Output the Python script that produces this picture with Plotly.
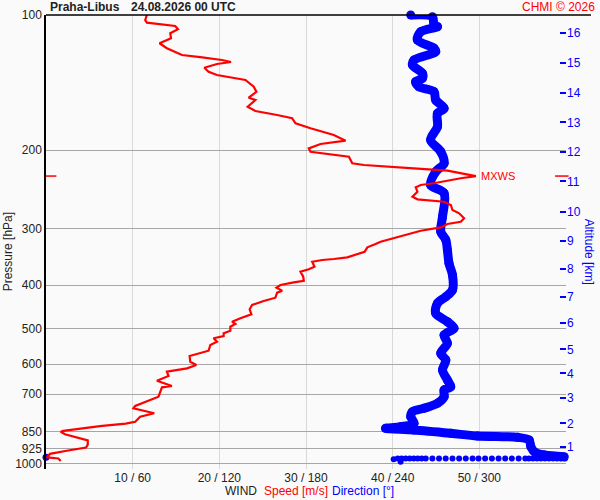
import math
import plotly.graph_objects as go

# === Data ===
# wind speed profile [m/s] vs pressure [hPa]
speed_ms = [11.64, 11.45, 11.64, 14.91, 15.23, 14.34, 14.42, 13.10, 13.95, 15.69,
            17.80, 20.31, 21.35, 19.73, 18.27, 18.76, 19.73, 23.01, 23.97, 24.28,
            23.39, 24.16, 23.27, 24.16, 26.67, 28.40, 28.79, 30.52, 33.21, 34.57,
            31.68, 30.32, 30.52, 34.95, 35.34, 36.68, 42.43, 46.32, 49.60, 47.86,
            44.74, 43.24, 42.66, 42.86, 42.28, 42.86, 45.93, 46.71, 46.90, 47.67,
            48.24, 47.86, 46.32, 45.55, 43.24, 40.92, 39.97, 38.61, 38.03, 37.08,
            36.76, 35.72, 34.76, 33.21, 31.87, 30.72, 30.98, 30.32, 29.36, 29.68,
            29.75, 28.59, 27.05, 26.59, 27.25, 26.67, 26.47, 25.12, 23.78, 23.50,
            23.70, 22.43, 21.47, 21.85, 21.27, 21.27, 20.50, 20.50, 19.34, 19.73,
            18.96, 18.76, 17.80, 16.57, 16.65, 17.34, 16.27, 13.95, 14.14, 12.80,
            14.53, 13.38, 12.98, 12.02, 10.29, 10.09, 12.49, 10.87, 10.29, 9.19,
            6.22, 2.00, 1.70, 2.19, 4.05, 4.82, 4.82, 4.62, 2.39, 0.46,
            0.08, 1.43, 1.70]
speed_hpa = [100.0, 102.6, 104.0, 105.8, 107.6, 109.8, 112.7, 115.6, 118.6, 122.8,
             124.2, 126.0, 127.3, 128.6, 131.1, 133.8, 136.1, 139.6, 144.5, 148.3,
             152.9, 154.7, 160.2, 163.7, 167.1, 169.9, 174.4, 178.9, 185.2, 190.6,
             193.9, 198.3, 201.8, 207.0, 214.1, 216.0, 219.7, 222.4, 228.6, 231.2,
             237.2, 239.3, 242.2, 247.7, 254.1, 257.6, 260.8, 265.2, 272.1, 276.8,
             284.0, 289.0, 292.4, 297.5, 302.7, 311.1, 314.7, 320.3, 324.1, 329.6,
             337.2, 341.7, 347.0, 350.0, 351.8, 354.9, 364.1, 369.0, 373.6, 383.3,
             391.3, 394.5, 400.0, 405.6, 411.9, 416.1, 426.9, 434.2, 443.2, 453.1,
             464.9, 474.5, 482.9, 488.6, 495.4, 505.7, 512.5, 519.7, 525.8, 535.1,
             544.2, 560.4, 567.9, 575.9, 593.0, 603.1, 613.4, 624.2, 638.1, 653.7,
             671.8, 676.3, 709.6, 721.8, 744.3, 753.2, 772.8, 786.4, 806.9, 814.8,
             825.2, 845.4, 849.4, 860.4, 878.2, 888.2, 907.4, 921.2, 936.4, 951.8,
             968.7, 974.7, 987.0]

# wind direction profile [deg] vs pressure [hPa]
dir_deg = [252.5, 267.5, 268.6, 271.0, 259.4, 257.1, 268.6, 269.8, 254.8, 253.7,
           260.6, 260.6, 255.9, 258.2, 268.6, 269.8, 275.6, 271.0, 271.0, 266.3,
           273.3, 275.6, 269.8, 266.3, 275.6, 274.5, 273.3, 276.8, 277.9, 279.0,
           281.4, 281.4, 276.8, 271.0, 269.8, 277.9, 282.5, 275.6, 277.9, 273.3,
           276.8, 274.5, 277.9, 280.2, 275.6, 275.6, 271.0, 261.7, 253.7, 252.5,
           254.8, 245.5, 235.1, 254.8, 280.2, 298.7, 326.5, 334.5, 335.7, 338.0,
           344.9, 358.8]
dir_hpa = [100.0, 100.9, 105.3, 106.2, 109.0, 113.7, 118.6, 120.7, 126.0, 129.2,
           134.9, 138.4, 140.8, 144.5, 148.3, 154.7, 161.5, 165.7, 177.5, 190.0,
           201.8, 214.1, 223.6, 239.3, 249.7, 281.7, 304.2, 317.4, 334.2, 357.8,
           379.9, 410.4, 424.8, 439.3, 462.5, 482.9, 499.5, 517.0, 539.5, 567.9,
           587.9, 618.8, 651.4, 674.2, 685.8, 709.6, 734.2, 753.2, 766.5, 786.4,
           813.5, 827.9, 834.7, 842.0, 856.4, 868.4, 874.2, 886.4, 917.6, 941.5,
           957.3, 965.7]

# near-surface direction samples (sparse dotted row)
row_deg = [359.3, 356.5, 353.7, 351.0, 348.2, 345.4, 342.6, 339.9, 337.1, 334.3,
           331.8, 327.2, 322.5, 317.9, 313.3, 308.7, 304.0, 299.4, 295.3, 290.6,
           286.0, 281.4, 276.7, 272.1, 267.5, 262.9, 260.1, 257.3, 254.6, 251.8,
           249.0, 246.2, 243.5, 240.7, 245.5]
row_hpa = [974.7] * 33 + [978.7, 990.8]

calm_deg = [0.0]
calm_hpa = [968.7]

# right-hand altitude scale: km and the pressure level it sits at
alt_km = [1, 2, 3, 4, 5, 6, 7, 8, 9, 10, 11, 12, 13, 14, 15, 16]
alt_hpa = [917.6, 813.5, 715.4, 629.4, 556.4, 486.8, 424.8, 368.4, 318.6, 274.6,
           234.9, 202.1, 173.5, 149.3, 128.1, 109.8]

pressure_ticks = [100, 200, 300, 400, 500, 600, 700, 850, 925, 1000]
speed_ticks = [10, 20, 30, 40, 50, 60]
speed_labels = ["10 / 60", "20 / 120", "30 / 180", "40 / 240", "50 / 300", ""]

station = "Praha-Libus"
stamp = "24.08.2026 00 UTC"

# === Derived ===
i_max = max(range(len(speed_ms)), key=lambda i: speed_ms[i])
mxws_speed = speed_ms[i_max]
mxws_hpa = speed_hpa[i_max]

FONT = "Liberation Sans, Arial, sans-serif"
BLUE = "#0000ff"
RED = "#ff0000"
y_range = [math.log10(1028.6), 2.0]

fig = go.Figure()

fig.add_trace(go.Scatter(
    x=[d / 6 for d in dir_deg], y=dir_hpa, mode="lines+markers",
    line=dict(color=BLUE, width=9, shape="spline", smoothing=0.9),
    marker=dict(color=BLUE, size=9),
    cliponaxis=False, hoverinfo="skip"))
fig.add_trace(go.Scatter(
    x=[d / 6 for d in row_deg], y=row_hpa, mode="markers",
    marker=dict(color=BLUE, size=6), cliponaxis=False, hoverinfo="skip"))
fig.add_trace(go.Scatter(
    x=[d / 6 for d in calm_deg], y=calm_hpa, mode="markers",
    marker=dict(color=BLUE, size=7), cliponaxis=False, hoverinfo="skip"))
fig.add_trace(go.Scatter(
    x=speed_ms, y=speed_hpa, mode="lines",
    line=dict(color=RED, width=2.2), hoverinfo="skip"))
# invisible trace so the altitude axis gets drawn
fig.add_trace(go.Scatter(
    x=[None], y=[None], yaxis="y2", showlegend=False, hoverinfo="skip"))

fig.update_layout(
    width=600, height=500,
    margin=dict(l=46, r=34, t=15, b=31, autoexpand=False),
    paper_bgcolor="#fafafa", plot_bgcolor="#fafafa",
    showlegend=False,
    font=dict(family=FONT, size=12, color="#222222"),
    xaxis=dict(range=[0, 60], tickvals=speed_ticks, ticktext=speed_labels,
               showgrid=True, gridcolor="#d9d9d9", gridwidth=1,
               zeroline=False, showline=False, ticks="", automargin=False,
               tickfont=dict(size=12, color="#222222")),
    yaxis=dict(type="log", range=y_range, tickvals=pressure_ticks,
               ticktext=[str(p) for p in pressure_ticks],
               showgrid=True, gridcolor="#a6a6a6", gridwidth=1,
               zeroline=False, showline=True, linecolor="black", linewidth=1.5,
               ticks="", automargin=False, tickfont=dict(size=12, color="#222222")),
    yaxis2=dict(type="log", range=y_range, overlaying="y", side="right",
                tickvals=alt_hpa, ticktext=[str(k) for k in alt_km],
                ticks="inside", ticklen=6, tickwidth=1.5, tickcolor=BLUE,
                tickfont=dict(size=12, color=BLUE), automargin=False,
                showgrid=False, zeroline=False, showline=False),
)

# top frame line, running a little past the plot
fig.add_shape(type="line", xref="paper", yref="paper", x0=0, x1=1.048,
              y0=1, y1=1, line=dict(color="black", width=1.5))

# max wind speed markers
fig.add_shape(type="line", xref="paper", yref="y", x0=0, x1=0.02,
              y0=mxws_hpa, y1=mxws_hpa, line=dict(color=RED, width=1.5))
fig.add_shape(type="line", xref="paper", yref="y", x0=0.979, x1=1.005,
              y0=mxws_hpa, y1=mxws_hpa, line=dict(color=RED, width=1.5))
fig.add_annotation(x=mxws_speed, y=math.log10(mxws_hpa), xref="x", yref="y",
                   text="MXWS", showarrow=False, xanchor="left", xshift=3,
                   font=dict(color=RED, size=11))

# titles and labels
def label(text, x, y, color="#222222", size=12, xanchor="left", angle=0, bold=False):
    if bold:
        text = "<b>" + text + "</b>"
    fig.add_annotation(text=text, x=x, y=y, xref="paper", yref="paper",
                       showarrow=False, xanchor=xanchor, yanchor="middle",
                       textangle=angle, font=dict(color=color, size=size))

label(station, (48 - 45.7) / 520, (469 - 7) / 454, bold=True)
label(stamp, (129 - 45.7) / 520, (469 - 7) / 454, bold=True)
label("CHMI © 2026", (597 - 45.7) / 520, (469 - 7) / 454, color=RED, xanchor="right")
label("Pressure [hPa]", (8 - 45.7) / 520, (469 - 252) / 454, xanchor="center", angle=-90)
label("Altitude [km]", (589 - 45.7) / 520, (469 - 252) / 454, color=BLUE,
      xanchor="center", angle=90)
label("WIND", (223 - 45.7) / 520, (469 - 491) / 454)
label("Speed [m/s]", (262 - 45.7) / 520, (469 - 491) / 454, color=RED)
label("Direction [°]", (330 - 45.7) / 520, (469 - 491) / 454, color=BLUE)

# page body has an 8px default margin; drop it so the figure sits at the corner
fig.write_html("out.html", config={"displayModeBar": False},
               post_script="document.body.style.margin='0';")
